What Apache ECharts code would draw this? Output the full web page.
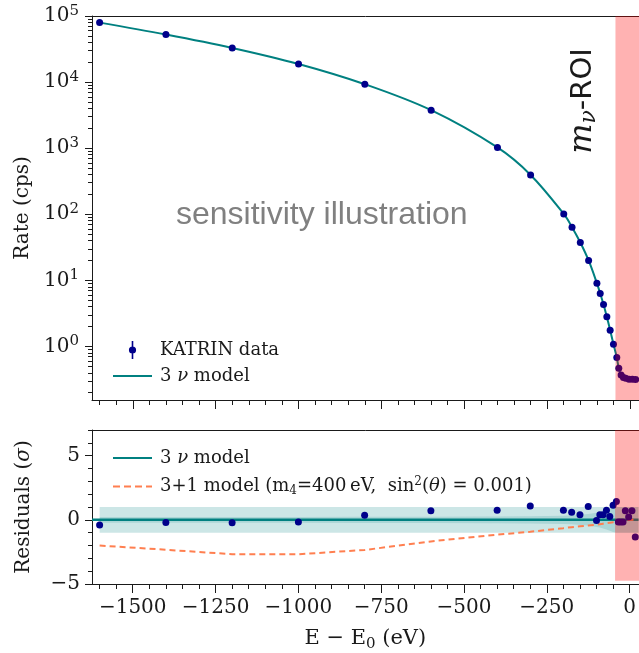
<!DOCTYPE html>
<html>
<head>
<meta charset="utf-8">
<script src="https://cdn.jsdelivr.net/npm/echarts@6/dist/echarts.min.js"></script>
<style>
  html, body { margin: 0; padding: 0; background: #fff; }
  #chart { width: 639px; height: 653px; }
</style>
</head>
<body>
<div id="chart"></div>
<script>
// Retarding energy relative to the endpoint, E - E0 (eV)
const energies = [-1600, -1400, -1200, -1000, -800, -600, -400, -300, -200, -175, -150, -125,
  -100, -90, -80, -70, -60, -50, -40, -34, -27, -20, -13, -3, 7, 17];
// Measured count rate (cps)
const rates = [79400, 52500, 32900, 18800, 9290, 3760, 1026, 394, 101, 63.8, 37.4, 20.0,
  9.08, 6.34, 4.32, 2.81, 1.76, 1.08, 0.68, 0.47, 0.37, 0.34, 0.33, 0.32, 0.318, 0.316];
// 3-neutrino model prediction (cps)
const modelRates = [79400, 52500, 32900, 18800, 9290, 3760, 1026, 394, 101, 63.8, 37.4, 20.0,
  9.08, 6.34, 4.32, 2.81, 1.76, 1.08, 0.68, 0.47, 0.37, 0.34, 0.33, 0.32, 0.318, 0.316];
// Normalised residuals of the data w.r.t. the 3-neutrino model (sigma)
const residuals = [-0.41, -0.21, -0.23, -0.16, 0.36, 0.70, 0.75, 1.08, 0.75, 0.60, 0.39, 1.03,
  -0.05, 0.39, 0.39, 0.75, 0.26, 1.14, 1.42, -0.16, -0.16, -0.16, 0.70, 0.23, 0.70, -1.34];
// Residuals of the 3+1 model (m4 = 400 eV, sin^2 = 0.001) (sigma)
const sterileResiduals = [-2.0, -2.33, -2.68, -2.68, -2.35, -1.68, -1.16, -0.93, -0.65, -0.57, -0.50, -0.44,
  -0.38, -0.34, -0.30, -0.26, -0.22, -0.18, -0.14, -0.12, -0.09, -0.06, -0.04, -0.01, 0, 0];
// 1-sigma band (total) and inner band half widths (sigma)
const outerBand = [1, 1, 1, 1, 1, 1, 1, 1, 1, 1, 1, 1, 1, 1, 1, 1, 1, 1, 1, 1, 1, 1, 1, 1, 1, 1];
const innerBand = [0.22, 0.22, 0.23, 0.23, 0.24, 0.25, 0.26, 0.28, 0.32, 0.35, 0.40, 0.45,
  0.55, 0.60, 0.68, 0.75, 0.85, 0.95, 1.0, 1.0, 1.0, 1.0, 1.0, 1.0, 1.0, 1.0];
// Start of the neutrino-mass region of interest (eV)
const roiStart = -44;

// Axis ranges and tick values
const xMin = -1623, xMax = 27;
const xTicks = [-1500, -1250, -1000, -750, -500, -250, 0];
const rateLogMin = -0.81, rateLogMax = 5;
const rateDecades = [0, 1, 2, 3, 4, 5];
const resMin = -5, resMax = 7, resRoiBottom = -4.75;
const resTicks = [-5, 0, 5];

const xMinorTicks = [];
for (let v = -1600; v <= 0; v += 50) if (xTicks.indexOf(v) < 0) xMinorTicks.push(v);
const rateMinorTicks = [];
for (let d = -1; d < 5; d++) for (let k = 2; k <= 9; k++) {
  const lv = Math.log10(k * Math.pow(10, d));
  if (lv > rateLogMin && lv < rateLogMax) rateMinorTicks.push(lv);
}
const resMinorTicks = [-4, -3, -2, -1, 1, 2, 3, 4, 6, 7];

const SERIF = 'DejaVu Serif';
const INK = '#1a1a1a';
const TEAL = '#008080';
const NAVY = '#00008b';
const CORAL = '#ff7f50';
const minus = s => String(s).replace('-', '\u2212');

const spine = { show: true, onZero: false, lineStyle: { color: INK, width: 1 } };
const noLine = { show: false, onZero: false };
const baseX = { type: 'value', min: xMin, max: xMax, splitLine: { show: false } };

function majorX(grid, labels) {
  return Object.assign({}, baseX, {
    gridIndex: grid, position: 'bottom', axisLine: spine,
    axisTick: { show: true, customValues: xTicks, length: 9, lineStyle: { color: INK } },
    axisLabel: labels ? {
      show: true, customValues: xTicks, margin: 14, color: INK,
      fontFamily: SERIF, fontSize: 20, formatter: v => minus(v)
    } : { show: false }
  });
}
function minorX(grid) {
  return Object.assign({}, baseX, {
    gridIndex: grid, position: 'bottom', axisLine: noLine,
    axisTick: { show: true, customValues: xMinorTicks, length: 5, lineStyle: { color: INK } },
    axisLabel: { show: false }
  });
}
function topX(grid) {
  return Object.assign({}, baseX, {
    gridIndex: grid, position: 'top', axisLine: spine,
    axisTick: { show: false }, axisLabel: { show: false }
  });
}

// Shaded band of half width w[] around zero along the energies
function bandSeries(xi, yi, halfWidths, color, z) {
  return {
    type: 'custom', xAxisIndex: xi, yAxisIndex: yi, z: z, silent: true,
    data: [[energies[0], 0]],
    renderItem(params, api) {
      const pts = [];
      const last = halfWidths[halfWidths.length - 1];
      for (let i = 0; i < energies.length; i++) pts.push(api.coord([energies[i], halfWidths[i]]));
      pts.push(api.coord([xMax, last]));
      pts.push(api.coord([xMax, -last]));
      for (let i = energies.length - 1; i >= 0; i--) pts.push(api.coord([energies[i], -halfWidths[i]]));
      return { type: 'polygon', shape: { points: pts }, style: { fill: color } };
    }
  };
}
// Region of interest shading drawn over the data
function roiSeries(xi, yi, yLo, yHi) {
  return {
    type: 'custom', xAxisIndex: xi, yAxisIndex: yi, z: 20, silent: true,
    data: [[roiStart, yLo]],
    renderItem(params, api) {
      const p0 = api.coord([roiStart, yHi]);
      const p1 = api.coord([xMax, yLo]);
      return {
        type: 'rect',
        shape: { x: p0[0], y: p0[1], width: p1[0] - p0[0] + 4, height: p1[1] - p0[1] },
        style: { fill: 'rgba(255,0,0,0.3)' }
      };
    }
  };
}

const legendRich = {
  t: { fontFamily: SERIF, fontSize: 18, color: INK, lineHeight: 22 },
  i: { fontFamily: SERIF, fontStyle: 'italic', fontSize: 18, color: INK, lineHeight: 22 },
  sub: { fontFamily: SERIF, fontSize: 12, color: INK, lineHeight: 12, padding: [9, 0, 0, 0] },
  sup: { fontFamily: SERIF, fontSize: 12, color: INK, lineHeight: 12, padding: [0, 0, 9, 0] }
};
function legendText(name) {
  if (name === '3 ν model') return '{t|3 }{i|ν}{t| model}';
  if (name === '3+1 model')
    return '{t|3+1 model (m}{sub|4}{t|=400\u2009eV,  sin}{sup|2}{t|(}{i|θ}{t|) = 0.001)}';
  return '{t|' + name + '}';
}
// Legend glyphs: error bar with marker, solid line, dashed line
const errorBarIcon = 'path://M-0.8,0L0.8,0L0.8,18L-0.8,18Z M3.6,9A3.6,3.6 0 1 1 -3.6,9A3.6,3.6 0 1 1 3.6,9Z';
const solidIcon = 'path://M0,0L39,0L39,2.2L0,2.2Z';
const dashedIcon = 'path://M0,0L7,0L7,2L0,2Z M11,0L18,0L18,2L11,2Z M22,0L29,0L29,2L22,2Z M33,0L39,0L39,2L33,2Z';

const chart = echarts.init(document.getElementById('chart'), null, { renderer: 'canvas' });
chart.setOption({
  animation: false,
  backgroundColor: '#fff',
  grid: [
    { left: 92, top: 16, right: 0, height: 384 },
    { left: 92, top: 430, right: 0, height: 154 }
  ],
  xAxis: [
    majorX(0, false), minorX(0), topX(0),
    Object.assign(majorX(1, true), {
      name: '{n|E \u2212 E}{s|0}{n| (eV)}', nameLocation: 'middle', nameGap: 42,
      nameTextStyle: {
        rich: {
          n: { fontFamily: SERIF, fontSize: 21, color: INK, lineHeight: 26 },
          s: { fontFamily: SERIF, fontSize: 15, color: INK, lineHeight: 15, padding: [11, 0, 0, 0] }
        }
      }
    }),
    minorX(1), topX(1)
  ],
  yAxis: [
    {
      type: 'value', gridIndex: 0, position: 'left', min: rateLogMin, max: rateLogMax,
      splitLine: { show: false }, axisLine: spine,
      axisTick: { show: true, customValues: rateDecades, length: 7, lineStyle: { color: INK } },
      axisLabel: {
        show: true, customValues: rateDecades, margin: 13, color: INK,
        formatter: v => '{b|10}{s|' + Math.round(v) + '}',
        rich: {
          b: { fontFamily: SERIF, fontSize: 20, color: INK, lineHeight: 24 },
          s: { fontFamily: SERIF, fontSize: 15, color: INK, lineHeight: 15, padding: [0, 0, 10, 0] }
        }
      },
      name: 'Rate (cps)', nameLocation: 'middle', nameGap: 58,
      nameTextStyle: { fontFamily: SERIF, fontSize: 20, color: INK }
    },
    {
      type: 'value', gridIndex: 0, position: 'left', min: rateLogMin, max: rateLogMax,
      splitLine: { show: false }, axisLine: noLine,
      axisTick: { show: true, customValues: rateMinorTicks, length: 4, lineStyle: { color: INK } },
      axisLabel: { show: false }
    },
    {
      type: 'value', gridIndex: 1, position: 'left', min: resMin, max: resMax,
      splitLine: { show: false }, axisLine: spine,
      axisTick: { show: true, customValues: resTicks, length: 7, lineStyle: { color: INK } },
      axisLabel: {
        show: true, customValues: resTicks, margin: 12, color: INK,
        fontFamily: SERIF, fontSize: 20, formatter: v => minus(v)
      },
      name: '{n|Residuals (}{i|σ}{n|)}', nameLocation: 'middle', nameGap: 58,
      nameTextStyle: {
        rich: {
          n: { fontFamily: SERIF, fontSize: 20, color: INK },
          i: { fontFamily: SERIF, fontStyle: 'italic', fontSize: 20, color: INK }
        }
      }
    },
    {
      type: 'value', gridIndex: 1, position: 'left', min: resMin, max: resMax,
      splitLine: { show: false }, axisLine: noLine,
      axisTick: { show: true, customValues: resMinorTicks, length: 4, lineStyle: { color: INK } },
      axisLabel: { show: false }
    }
  ],
  legend: [
    {
      left: 108, top: 336, orient: 'vertical', itemWidth: 39, itemHeight: 18, itemGap: 8,
      selectedMode: false, formatter: legendText,
      textStyle: { padding: [0, 0, 0, 3], rich: legendRich },
      data: [{ name: 'KATRIN data', icon: errorBarIcon }, { name: '3 ν model', icon: solidIcon }]
    },
    {
      left: 108, top: 444, orient: 'vertical', itemWidth: 39, itemHeight: 18, itemGap: 9,
      selectedMode: false, formatter: legendText,
      textStyle: { padding: [0, 0, 0, 3], rich: legendRich },
      data: [{ name: '3 ν model', icon: solidIcon }, { name: '3+1 model', icon: dashedIcon }]
    }
  ],
  graphic: [
    {
      type: 'text', x: 176, y: 215, z: 1, silent: true,
      style: {
        text: 'sensitivity illustration', fill: '#808080',
        font: '32px "Liberation Sans", Arial, sans-serif',
        align: 'left', verticalAlign: 'middle'
      }
    },
    {
      type: 'text', x: 583, y: 101, rotation: Math.PI / 2, z: 30, silent: true,
      style: {
        text: '{m|m}{nu|ν}{r|-ROI}', align: 'center', verticalAlign: 'middle',
        rich: {
          m: { fontFamily: SERIF, fontStyle: 'italic', fontSize: 32, fill: INK, lineHeight: 34 },
          nu: { fontFamily: SERIF, fontStyle: 'italic', fontSize: 22, fill: INK, lineHeight: 22, padding: [12, 0, 0, 0] },
          r: { fontFamily: 'DejaVu Sans', fontSize: 29, fill: INK, lineHeight: 34 }
        }
      }
    }
  ],
  series: [
    // Upper panel: spectrum
    {
      name: '3 ν model', type: 'line', xAxisIndex: 0, yAxisIndex: 0, z: 3,
      data: energies.map((e, i) => [e, Math.log10(modelRates[i])]),
      smooth: 0.35, symbol: 'none', lineStyle: { color: TEAL, width: 2 }, itemStyle: { color: TEAL }
    },
    {
      name: 'KATRIN data', type: 'scatter', xAxisIndex: 0, yAxisIndex: 0, z: 4,
      data: energies.map((e, i) => [e, Math.log10(rates[i])]),
      symbolSize: 7, itemStyle: { color: NAVY, opacity: 1 }
    },
    roiSeries(0, 0, rateLogMin, rateLogMax),
    // Lower panel: residuals
    bandSeries(3, 2, outerBand, 'rgba(0,128,128,0.2)', 1),
    bandSeries(3, 2, innerBand, 'rgba(0,128,128,0.16)', 1),
    {
      name: '3 ν model', type: 'line', xAxisIndex: 3, yAxisIndex: 2, z: 3,
      data: [[xMin, 0], [xMax, 0]], symbol: 'none',
      lineStyle: { color: TEAL, width: 2.5 }, itemStyle: { color: TEAL }
    },
    {
      name: '3+1 model', type: 'line', xAxisIndex: 3, yAxisIndex: 2, z: 3,
      data: energies.map((e, i) => [e, sterileResiduals[i]]), symbol: 'none',
      lineStyle: { color: CORAL, width: 2, type: [6, 4] }, itemStyle: { color: CORAL }
    },
    {
      name: 'residuals', type: 'scatter', xAxisIndex: 3, yAxisIndex: 2, z: 4,
      data: energies.map((e, i) => [e, residuals[i]]),
      symbolSize: 7, itemStyle: { color: NAVY, opacity: 1 }
    },
    roiSeries(3, 2, resRoiBottom, resMax)
  ]
});
</script>
</body>
</html>
